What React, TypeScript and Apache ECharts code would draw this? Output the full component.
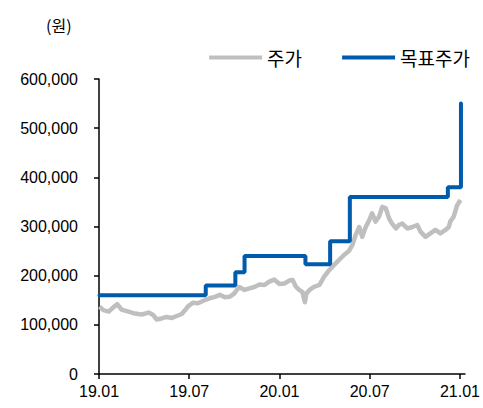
import React, { useEffect, useRef } from "react";
import * as echarts from "echarts";

const xTickLabels = ["19.01", "19.07", "20.01", "20.07", "21.01"];
const yTickValues = [0, 100000, 200000, 300000, 400000, 500000, 600000];

const priceDates = [
  "2019-01-02", "2019-01-10", "2019-01-21", "2019-01-31", "2019-02-07", "2019-02-15",
  "2019-02-28", "2019-03-13", "2019-03-27", "2019-04-10", "2019-04-19", "2019-04-26",
  "2019-05-06", "2019-05-16", "2019-05-27", "2019-06-06", "2019-06-16", "2019-06-22",
  "2019-06-29", "2019-07-09", "2019-07-19", "2019-07-30", "2019-08-12", "2019-08-23",
  "2019-09-02", "2019-09-12", "2019-09-22", "2019-10-01", "2019-10-11", "2019-10-22",
  "2019-11-01", "2019-11-11", "2019-11-21", "2019-12-01", "2019-12-11", "2019-12-21",
  "2020-01-01", "2020-01-11", "2020-01-21", "2020-01-28", "2020-02-04", "2020-02-10",
  "2020-02-16", "2020-02-21", "2020-02-24", "2020-03-01", "2020-03-10", "2020-03-21",
  "2020-03-31", "2020-04-10", "2020-04-20", "2020-04-30", "2020-05-10", "2020-05-20",
  "2020-05-27", "2020-06-03", "2020-06-10", "2020-06-16", "2020-06-23", "2020-06-30",
  "2020-07-06", "2020-07-13", "2020-07-20", "2020-07-27", "2020-08-03", "2020-08-10",
  "2020-08-16", "2020-08-24", "2020-08-30", "2020-09-06", "2020-09-16", "2020-09-26",
  "2020-10-06", "2020-10-13", "2020-10-23", "2020-11-02", "2020-11-12", "2020-11-22",
  "2020-12-02", "2020-12-09", "2020-12-12", "2020-12-19", "2020-12-23", "2020-12-26",
  "2021-01-02",
];
const priceValues = [
  137000, 130000, 127000, 136000, 142000, 131000,
  127000, 123000, 121000, 125000, 120000, 111000,
  113000, 116000, 114000, 118000, 122000, 129000,
  138000, 145000, 144000, 149000, 154000, 157000,
  161000, 156000, 157000, 164000, 177000, 171000,
  174000, 177000, 182000, 181000, 188000, 192000,
  183000, 184000, 190000, 191000, 177000, 171000,
  167000, 146000, 164000, 171000, 177000, 181000,
  198000, 211000, 222000, 232000, 242000, 250000,
  262000, 283000, 299000, 279000, 299000, 313000,
  327000, 310000, 320000, 340000, 337000, 316000,
  306000, 296000, 303000, 306000, 296000, 299000,
  303000, 289000, 279000, 286000, 293000, 286000,
  293000, 299000, 310000, 320000, 333000, 343000,
  354000,
];

const targetDates = [
  "2019-01-02", "2019-08-04", "2019-10-03", "2019-10-22", "2020-02-22",
  "2020-04-12", "2020-05-22", "2020-12-07", "2021-01-03",
];
const targetValues = [
  160000, 180000, 207000, 240000, 223000,
  270000, 360000, 380000, 550000,
];

function monthPos(d: string): number {
  const [y, m, day] = d.split("-").map(Number);
  const dim = new Date(y, m, 0).getDate();
  return (y - 2019) * 12 + (m - 1) + (day - 1) / dim;
}

export default function App() {
  const ref = useRef<HTMLDivElement>(null);
  useEffect(() => {
    if (!ref.current) return;
    const chart = echarts.init(ref.current, null, { renderer: "svg" });
    const font = "'Liberation Sans', Arial, sans-serif";
    const kfont = "'Noto Sans CJK KR', sans-serif";
    chart.setOption({
      animation: false,
      textStyle: { fontFamily: font },
      graphic: [
        {
          type: "text",
          left: 46,
          top: 17,
          style: { text: "(원)", font: `16px ${kfont}`, fill: "#000" },
        },
      ],
      legend: {
        right: 8,
        top: 43,
        icon: "rect",
        itemWidth: 53,
        itemHeight: 4,
        itemGap: 40,
        textStyle: { fontFamily: kfont, fontSize: 19, color: "#000" },
        data: ["주가", "목표주가"],
      },
      grid: { left: 99, right: 17, top: 79, bottom: 34 },
      xAxis: {
        type: "value",
        min: 0,
        max: 24.33,
        interval: 6,
        splitLine: { show: false },
        axisLine: { lineStyle: { color: "#000", width: 1.5 } },
        axisTick: {
          show: true,
          length: 5,
          lineStyle: { color: "#000", width: 1.5 },
          customValues: [0, 6, 12, 18, 24],
        },
        axisLabel: {
          customValues: [0, 6, 12, 18, 24],
          formatter: (v: number) => xTickLabels[Math.round(v / 6)] ?? "",
          fontSize: 16,
          color: "#000",
          margin: 9,
          fontFamily: font,
        },
      },
      yAxis: {
        type: "value",
        min: yTickValues[0],
        max: yTickValues[yTickValues.length - 1],
        interval: 100000,
        splitLine: { show: false },
        axisLine: { show: true, lineStyle: { color: "#000", width: 1.5 } },
        axisTick: { show: true, length: 5, lineStyle: { color: "#000", width: 1.5 } },
        axisLabel: {
          fontSize: 16,
          color: "#000",
          margin: 21,
          fontFamily: font,
          formatter: (v: number) => v.toLocaleString("en-US"),
        },
      },
      series: [
        {
          name: "주가",
          type: "line",
          symbol: "none",
          color: "#BFBFBF",
          lineStyle: { width: 4.5, color: "#BFBFBF", join: "round" },
          data: priceDates.map((d, i) => [monthPos(d), priceValues[i]]),
        },
        {
          name: "목표주가",
          type: "line",
          symbol: "none",
          step: "end",
          color: "#005BAC",
          lineStyle: { width: 4, color: "#005BAC", cap: "round" },
          data: targetDates.map((d, i) => [monthPos(d), targetValues[i]]),
        },
      ],
    });
    return () => chart.dispose();
  }, []);
  return (
    <div
      ref={ref}
      style={{ position: "fixed", left: 0, top: 0, width: 483, height: 408, background: "#fff" }}
    />
  );
}
